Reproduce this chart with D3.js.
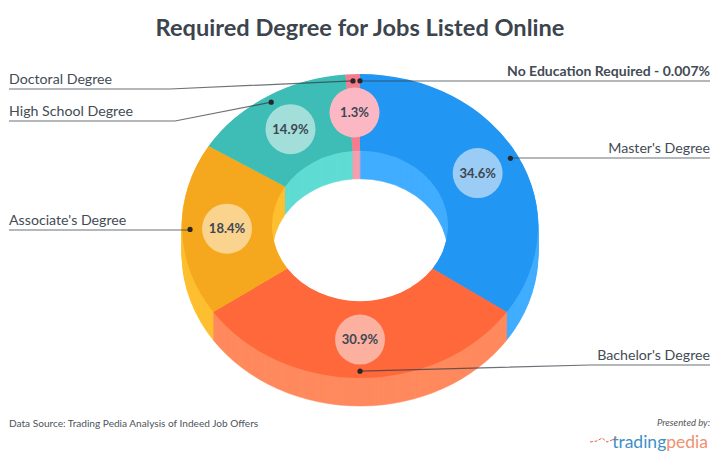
<!DOCTYPE html>
<html><head><meta charset="utf-8">
<style>html,body{margin:0;background:#fff}svg{display:block}text{font-family:Lato,sans-serif}</style>
<script src="https://cdn.jsdelivr.net/npm/d3@7"></script></head>
<body><svg id="c" width="720" height="466"></svg>
<script>
const categories = ["Master's Degree","Bachelor's Degree","Associate's Degree","High School Degree","Doctoral Degree","No Education Required - 0.007%"];
const values = [34.6,30.9,18.4,14.9,1.3,0.007];
const valueLabels = ["34.6%","30.9%","18.4%","14.9%","1.3%",""];
const topColors = ["#2196f3","#ff683b","#f5a81e","#3dbdb5","#f47c8e","#8f7fd6"];
const wallColors = ["#42adff","#ff8a5e","#fdbf30","#5fdcd3","#f5a0ae","#b9a8e0"];
const bubbleColors = ["#9accf5","#fcb0a0","#fad48f","#a3dfda","#fbb8c4",null];

// layout
const cx=360, cy=226, rOuter=178, rInner=88, squash=152/178, depth=28;
const leaders = [
  {side:"r",elbow:null,baseline:158},
  {side:"r",elbow:590,baseline:365},
  {side:"l",elbow:null,baseline:230},
  {side:"l",elbow:175,baseline:121},
  {side:"l",elbow:170,baseline:89},
  {side:"r",elbow:null,baseline:81}
];
const xLeft=9, xRight=710;

const svg=d3.select("#c");
const pie=d3.pie().sort(null).value(d=>d);
const arcs=pie(values);
const arc=d3.arc().innerRadius(rInner).outerRadius(rOuter);
const anchorArc=d3.arc().innerRadius(170).outerRadius(170);
const project=([x,y])=>[cx+x,cy+y*squash];

// extruded body: stacked copies of the ring, deepest first
const layers=d3.range(depth,0,-1);
const body=svg.append("g");
layers.forEach(dz=>{
  body.append("g").attr("transform",`translate(${cx},${cy+dz}) scale(1,${squash})`)
    .selectAll("path").data(arcs).join("path")
    .attr("d",arc).attr("fill",(d,i)=>wallColors[i]).attr("stroke",(d,i)=>wallColors[i]).attr("stroke-width",0.6);
});
// top face
svg.append("g").attr("transform",`translate(${cx},${cy}) scale(1,${squash})`)
  .selectAll("path").data(arcs).join("path")
  .attr("d",arc).attr("fill",(d,i)=>topColors[i]);

// bubbles and percentage labels
const bub=svg.append("g");
arcs.forEach((d,i)=>{
  if(!bubbleColors[i])return;
  const [x,y]=project(arc.centroid(d));
  bub.append("circle").attr("cx",x).attr("cy",y).attr("r",25).attr("fill",bubbleColors[i]);
  bub.append("text").attr("x",x).attr("y",y+4.5).attr("text-anchor","middle")
    .attr("font-size",13).attr("font-weight",700).attr("fill","#3d4652").text(valueLabels[i]);
});

// leader lines
const lead=svg.append("g");
arcs.forEach((d,i)=>{
  const [x,y]=project(anchorArc.centroid(d));
  const L=leaders[i], end=L.side==="l"?xLeft:xRight;
  const pts=[[x,y]];
  if(L.elbow!==null)pts.push([L.elbow,L.baseline]);else pts.push([x,L.baseline]);
  pts.push([end,L.baseline]);
  lead.append("path").attr("d",d3.line()(pts)).attr("fill","none")
    .attr("stroke","#333b44").attr("stroke-opacity",.72).attr("stroke-width",1.2);
  lead.append("circle").attr("cx",x).attr("cy",y).attr("r",2.6).attr("fill","#2a2526");
  lead.append("text").attr("x",end).attr("y",L.baseline-5)
    .attr("text-anchor",L.side==="l"?"start":"end")
    .attr("font-weight",i===5?700:400).attr("fill","#434b55")
    .attr("font-size",i===5?14:14.2).text(categories[i]);
});

// title, source, logo
svg.append("text").attr("x",360).attr("y",36).attr("text-anchor","middle")
  .attr("font-size",23.6).attr("font-weight",700).attr("fill","#3c444e").text("Required Degree for Jobs Listed Online");
svg.append("text").attr("x",9).attr("y",427).attr("font-size",10.1).attr("fill","#4d545c")
  .text("Data Source: Trading Pedia Analysis of Indeed Job Offers");
svg.append("text").attr("x",710).attr("y",426).attr("text-anchor","end").attr("font-size",9.5)
  .attr("font-style","italic").attr("fill","#555").text("Presented by:");
const logo=svg.append("text").attr("x",708).attr("y",448).attr("text-anchor","end").attr("font-size",17.5);
logo.append("tspan").attr("fill","#3f8fc9").text("trading");
logo.append("tspan").attr("fill","#f0916f").text("pedia");
svg.append("path").attr("d",d3.line()([[590,442],[597,441],[602,438],[607,442],[612,440],[617,437]]))
  .attr("fill","none").attr("stroke","#e8604a").attr("stroke-width",1).attr("stroke-dasharray","3 1.5");
</script></body></html>
